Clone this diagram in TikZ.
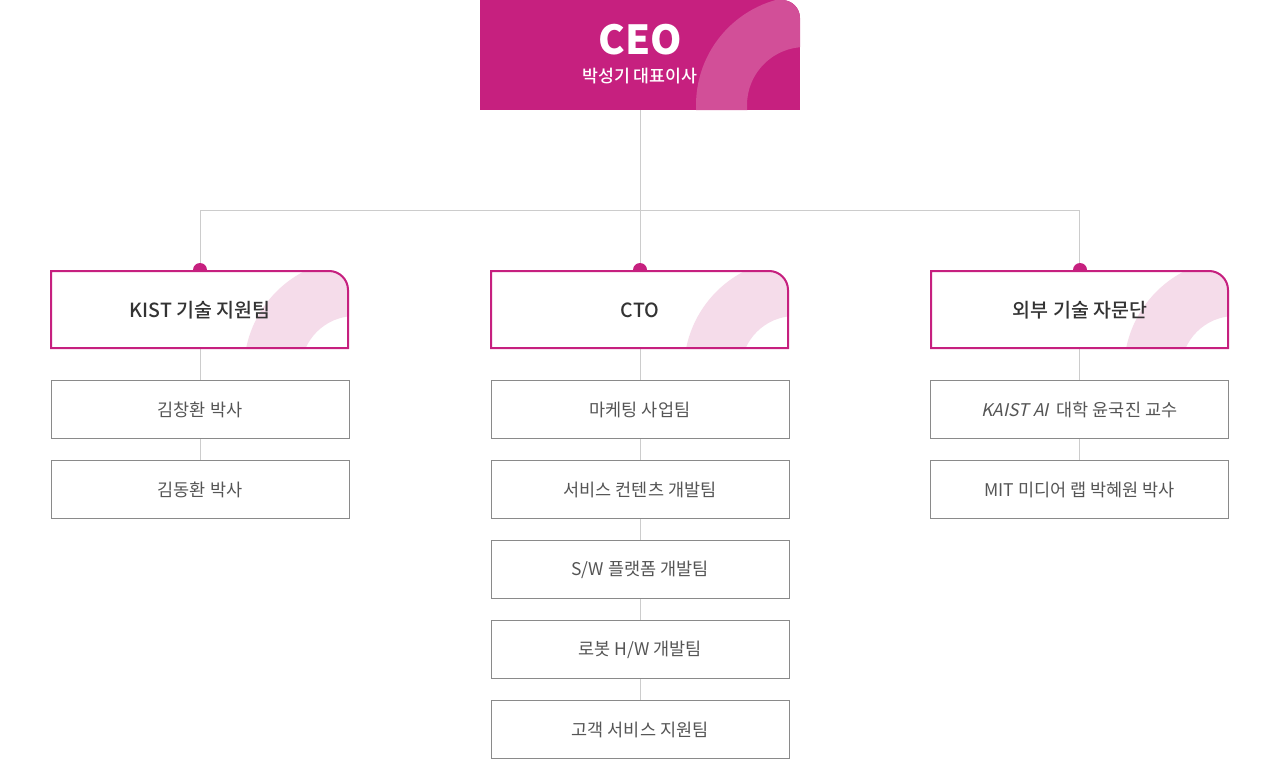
\documentclass[tikz,border=0pt]{standalone}
\usepackage{fontspec}
\setmainfont{Noto Sans CJK KR}[AutoFakeSlant=0.22]
\newfontfamily\krmed{Noto Sans CJK KR Medium}
\definecolor{mag}{HTML}{C6207F}
\definecolor{magl}{HTML}{D24F98}
\definecolor{pinkl}{HTML}{F5DCEA}
\definecolor{linec}{HTML}{CCCCCC}
\definecolor{boxb}{HTML}{8A8A8A}
\definecolor{txtg}{HTML}{555555}
\definecolor{txtd}{HTML}{333333}
\tikzset{
  conn/.style={draw=linec, line width=1pt},
  subbox/.style={draw=boxb, fill=white, line width=1pt, minimum width=298pt, minimum height=58pt, inner sep=0pt, text=txtg, font=\fontsize{17.5}{20}\selectfont},
  midtext/.style={text=txtd, font=\krmed\fontsize{19.5}{22}\selectfont, inner sep=0pt},
  dotn/.style={circle, fill=mag, minimum size=14pt, inner sep=0pt},
}
\newcommand{\midbox}[3]{% x-left, name, text
  \node[dotn] (#2dot) at (#1+150,270) {};
  \begin{scope}
    \clip (#1,270) -- (#1+279,270) arc[start angle=-90,end angle=0,radius=20] -- (#1+299,349) -- (#1,349) -- cycle;
    \fill[white] (#1,270) rectangle (#1+299,349);
    \fill[pinkl,even odd rule] (#1+305,370) circle[radius=111] (#1+305,370) circle[radius=54];
  \end{scope}
  \draw[mag, line width=2pt] (#1+1,271) -- (#1+279,271) arc[start angle=-90,end angle=0,radius=19] -- (#1+298,348) -- (#1+1,348) -- cycle;
  \node[midtext] (#2) at (#1+150,310) {#3};
}
\begin{document}
\begin{tikzpicture}[x=1pt,y=-1pt]
\useasboundingbox (0,0) rectangle (1280,760);
% CEO box
\begin{scope}
  \clip (480,0) -- (782,0) arc[start angle=-90,end angle=0,radius=18] -- (800,110) -- (480,110) -- cycle;
  \fill[mag] (480,0) rectangle (800,110);
  \fill[magl,even odd rule] (805,105) circle[radius=109] (805,105) circle[radius=58];
\end{scope}
\coordinate (ceob) at (640,110);
\node[text=white, font=\fontsize{40}{44}\selectfont\bfseries, inner sep=0pt] (ceo) at (640,40) {CEO};
\node[text=white, font=\krmed\fontsize{17.3}{18}\selectfont, inner sep=0pt] (ceosub) at (640,76) {박성기 대표이사};
% connectors
\coordinate (j) at (640,210);
\coordinate (jl) at (200,210);
\coordinate (jr) at (1079,210);
\draw[conn] (ceob) -- (j);
\draw[conn] (jl) -- (jr);
\draw[conn] (jl) -- (200,270);
\draw[conn] (jr) -- (1079,270);
\draw[conn] (j) -- (640,270);
% vertical spines
\draw[conn] (200,349) -- (200,460);
\draw[conn] (640,349) -- (640,700);
\draw[conn] (1079,349) -- (1079,460);
% mid boxes
\midbox{50}{kist}{KIST 기술 지원팀}
\midbox{490}{cto}{CTO}
\midbox{930}{ext}{외부 기술 자문단}
% sub boxes
\node[subbox] (k1) at (200,409.5) {김창환 박사};
\node[subbox] (k2) at (200,489.5) {김동환 박사};
\node[subbox] (c1) at (640,409.5) {마케팅 사업팀};
\node[subbox] (c2) at (640,489.5) {서비스 컨텐츠 개발팀};
\node[subbox] (c3) at (640,569.5) {S/W 플랫폼 개발팀};
\node[subbox] (c4) at (640,649.5) {로봇 H/W 개발팀};
\node[subbox] (c5) at (640,729.5) {고객 서비스 지원팀};
\node[subbox] (e1) at (1079.5,409.5) {\textit{KAIST AI}\ \ 대학 윤국진 교수};
\node[subbox] (e2) at (1079.5,489.5) {MIT 미디어 랩 박혜원 박사};
\end{tikzpicture}
\end{document}
